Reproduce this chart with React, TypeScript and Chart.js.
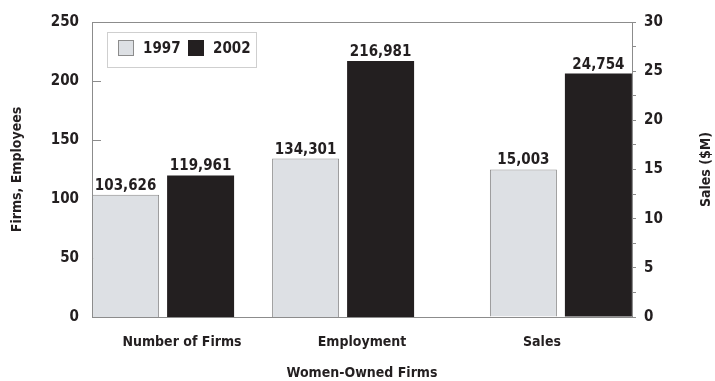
import { useEffect, useRef } from "react";
import { Chart, registerables } from "chart.js";

Chart.register(...registerables);

// ---- data ----
const categories = ["Number of Firms", "Employment", "Sales"];
const labelPositions = [0.5, 1.5, 2.5];
const barPositions = [0.395, 1.395, 2.605];
const seriesNames = ["1997", "2002"];
const values1997 = [103.626, 134.301, 15.003];
const values2002 = [119.961, 216.981, 24.754];
const valueAxis = ["y", "y", "y2"]; // Firms/Employees (thousands) left, Sales ($M) right
const leftMax = 250;
const leftStep = 50;
const rightMax = 30;
const rightStep = 5;
const rightMinorStep = 2.5;

// ---- style ----
const FONT = "'Liberation Sans Narrow', 'DejaVu Sans Condensed', 'Arial Narrow', sans-serif";
const TEXT = "#231f20";
const AXIS = "#8c8c8c";
const FILL_1997 = "#dde0e4";
const FILL_2002 = "#231f20";
const NUM_SIZE = 15;
const TXT_SIZE = 14;

const fmt = (v: number) => Math.round(v * 1000).toLocaleString("en-US");

function makeDatasets(name: string, values: number[], fill: string, border: string, bw: number) {
  const out: any[] = [];
  ["y", "y2"].forEach((axis) => {
    const data = values
      .map((v, i) => ({ x: barPositions[i], y: v, axis: valueAxis[i] }))
      .filter((p) => p.axis === axis)
      .map((p) => ({ x: p.x, y: p.y }));
    out.push({
      label: name,
      data,
      yAxisID: axis,
      stack: "s" + name,
      backgroundColor: fill,
      borderColor: border,
      borderWidth: bw,
      barPercentage: 0.8933,
      categoryPercentage: 0.8333,
    });
  });
  return out;
}

const framePlugin = {
  id: "frame",
  beforeDatasetsDraw(chart: any) {
    const { ctx, chartArea: a } = chart;
    ctx.save();
    ctx.strokeStyle = AXIS;
    ctx.lineWidth = 1;
    ctx.strokeRect(Math.round(a.left) + 0.5, Math.round(a.top) + 0.5, Math.round(a.right - a.left), Math.round(a.bottom - a.top));
    const ys = chart.scales.y;
    ys.ticks.forEach((t: any) => {
      const py = Math.round(ys.getPixelForValue(t.value)) + 0.5;
      ctx.beginPath();
      ctx.moveTo(a.left, py);
      ctx.lineTo(a.left + 9, py);
      ctx.stroke();
    });
    ctx.restore();
  },
};

const valueLabelPlugin = {
  id: "valueLabels",
  afterDatasetsDraw(chart: any) {
    const { ctx } = chart;
    ctx.save();
    ctx.font = `bold ${NUM_SIZE}px ${FONT}`;
    ctx.fillStyle = TEXT;
    ctx.textAlign = "center";
    ctx.textBaseline = "alphabetic";
    chart.data.datasets.forEach((ds: any, i: number) => {
      const meta = chart.getDatasetMeta(i);
      meta.data.forEach((el: any, j: number) => {
        ctx.fillText(fmt(ds.data[j].y), el.x, el.y - 5);
      });
    });
    ctx.restore();
  },
};

const legendPlugin = {
  id: "insideLegend",
  afterDraw(chart: any) {
    const { ctx, chartArea: a } = chart;
    const seen: any[] = [];
    chart.data.datasets.forEach((ds: any) => {
      if (!seen.find((s) => s.label === ds.label)) seen.push(ds);
    });
    const x0 = a.left + 15;
    const y0 = a.top + 10;
    ctx.save();
    ctx.fillStyle = "#ffffff";
    ctx.fillRect(x0, y0, 149, 35);
    ctx.strokeStyle = "#cfcfcf";
    ctx.lineWidth = 1;
    ctx.strokeRect(x0 + 0.5, y0 + 0.5, 149, 35);
    ctx.font = `bold ${NUM_SIZE}px ${FONT}`;
    ctx.textBaseline = "middle";
    ctx.textAlign = "left";
    let x = x0 + 11;
    seen.forEach((ds) => {
      ctx.fillStyle = ds.backgroundColor;
      ctx.fillRect(x, y0 + 8, 16, 16);
      if (ds.borderWidth) {
        ctx.strokeStyle = ds.borderColor;
        ctx.strokeRect(x + 0.5, y0 + 8.5, 15, 15);
      }
      ctx.fillStyle = TEXT;
      ctx.fillText(ds.label, x + 25, y0 + 17);
      x += 70;
    });
    ctx.restore();
  },
};

const rightTitlePlugin = {
  id: "rightTitle",
  afterDraw(chart: any) {
    const { ctx, chartArea: a } = chart;
    ctx.save();
    ctx.translate(706, (a.top + a.bottom) / 2);
    ctx.rotate(-Math.PI / 2);
    ctx.font = `bold ${TXT_SIZE}px ${FONT}`;
    ctx.fillStyle = TEXT;
    ctx.textAlign = "center";
    ctx.textBaseline = "middle";
    ctx.fillText("Sales ($M)", 0, 0);
    ctx.restore();
  },
};

export default function App() {
  const ref = useRef<HTMLCanvasElement | null>(null);

  useEffect(() => {
    document.body.style.margin = "0";
    if (!ref.current) return;
    Chart.defaults.font.family = FONT;
    Chart.defaults.color = TEXT;
    const chart = new Chart(ref.current, {
      type: "bar",
      data: {
        datasets: [
          ...makeDatasets(seriesNames[0], values1997, FILL_1997, AXIS, 1),
          ...makeDatasets(seriesNames[1], values2002, FILL_2002, FILL_2002, 0),
        ],
      },
      options: {
        animation: false,
        responsive: false,
        layout: { padding: { top: 18, left: 0, right: 0, bottom: 0 } },
        plugins: { legend: { display: false }, tooltip: { enabled: false } },
        scales: {
          x: {
            type: "linear",
            offset: false,
            min: 0,
            max: categories.length,
            afterBuildTicks: (s: any) => {
              s.ticks = labelPositions.map((v) => ({ value: v }));
            },
            afterFit: (s: any) => {
              s.height = 64;
            },
            grid: { display: false, drawTicks: false, offset: false },
            border: { display: true, color: AXIS },
            ticks: {
              padding: 17,
              autoSkip: false,
              maxRotation: 0,
              font: { size: TXT_SIZE, weight: "bold" },
              color: TEXT,
              callback: (v: any) => {
                const i = labelPositions.indexOf(Number(v));
                return i >= 0 ? categories[i] : "";
              },
            },
            title: {
              display: true,
              text: "Women-Owned Firms",
              font: { size: TXT_SIZE, weight: "bold" },
              color: TEXT,
              padding: { top: 0, bottom: -1 },
            },
          },
          y: {
            position: "left",
            min: 0,
            max: leftMax,
            afterFit: (s: any) => {
              s.width = 92;
            },
            grid: { display: false, drawTicks: false },
            border: { display: true, color: AXIS },
            ticks: { stepSize: leftStep, padding: 13, font: { size: NUM_SIZE, weight: "bold" }, color: TEXT },
            title: {
              display: true,
              text: "Firms, Employees",
              font: { size: TXT_SIZE, weight: "bold" },
              color: TEXT,
              padding: { top: 9, bottom: 0 },
            },
          },
          y2: {
            position: "right",
            min: 0,
            max: rightMax,
            afterFit: (s: any) => {
              s.width = 83;
            },
            grid: { drawOnChartArea: false, drawTicks: true, tickLength: 4, color: AXIS },
            border: { display: true, color: AXIS },
            ticks: {
              stepSize: rightMinorStep,
              padding: 8,
              font: { size: NUM_SIZE, weight: "bold" },
              color: TEXT,
              callback: (v: any) => (Number(v) % rightStep === 0 ? String(v) : ""),
            },
          },
        },
      } as any,
      plugins: [framePlugin, valueLabelPlugin, legendPlugin, rightTitlePlugin],
    });
    return () => chart.destroy();
  }, []);

  return (
    <div style={{ width: 715, height: 381 }}>
      <canvas ref={ref} width={715} height={381} />
    </div>
  );
}
